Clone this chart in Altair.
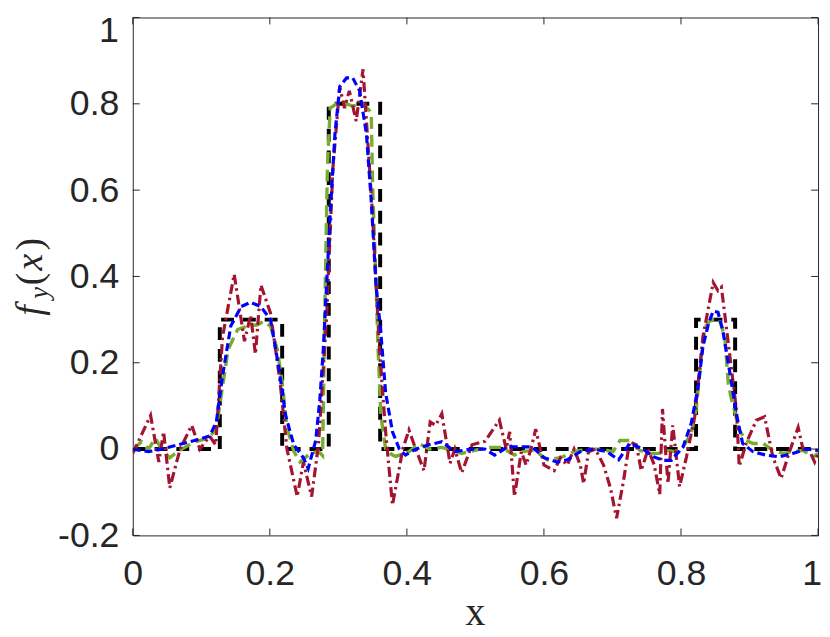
import altair as alt
import pandas as pd

# ---------------- data ----------------
x_ticks = [0, 0.2, 0.4, 0.6, 0.8, 1.0]
y_ticks = [-0.2, 0, 0.2, 0.4, 0.6, 0.8, 1.0]
end_label = "1"

true_x = [0, 0.127, 0.127, 0.218, 0.218, 0.286, 0.286, 0.361, 0.361, 0.822, 0.822, 0.879, 0.879, 1.0]
true_y = [0, 0, 0.3, 0.3, 0, 0, 0.8, 0.8, 0, 0, 0.3, 0.3, 0, 0]

green_x = [0.000, 0.013, 0.023, 0.033, 0.042, 0.054, 0.066, 0.090, 0.110, 0.122, 0.129, 0.139, 0.153, 0.167,
           0.182, 0.191, 0.201, 0.211, 0.218, 0.225, 0.235, 0.244, 0.259, 0.271, 0.277, 0.280, 0.284, 0.288,
           0.297, 0.312, 0.321, 0.336, 0.348, 0.350, 0.355, 0.358, 0.362, 0.369, 0.379, 0.384, 0.403, 0.418,
           0.432, 0.451, 0.466, 0.480, 0.499, 0.518, 0.538, 0.557, 0.567, 0.586, 0.605, 0.624, 0.644, 0.663,
           0.682, 0.701, 0.711, 0.725, 0.740, 0.754, 0.769, 0.779, 0.791, 0.803, 0.815, 0.822, 0.830, 0.835,
           0.844, 0.856, 0.864, 0.869, 0.873, 0.878, 0.885, 0.895, 0.905, 0.920, 0.934, 0.949, 0.963, 0.978,
           0.993, 1.000]
green_y = [0.0, 0.017, 0.0, 0.025, 0.0, -0.02, -0.005, 0.017, 0.025, 0.047, 0.124, 0.23, 0.277, 0.285,
           0.288, 0.296, 0.285, 0.23, 0.155, 0.05, -0.005, -0.03, -0.01, -0.005, -0.015, 0.3, 0.65, 0.79,
           0.80, 0.80, 0.795, 0.80, 0.78, 0.61, 0.38, 0.23, 0.078, 0.0, -0.014, -0.017, -0.006, 0.013,
           0.0, 0.004, -0.003, -0.01, -0.003, 0.004, 0.004, -0.014, -0.006, -0.003, -0.025, -0.02, -0.006, 0.0,
           0.0, -0.006, 0.02, 0.02, -0.003, -0.01, -0.01, -0.003, -0.006, 0.005, 0.036, 0.09, 0.22, 0.283,
           0.30, 0.30, 0.26, 0.152, 0.12, 0.09, 0.044, 0.02, 0.013, 0.013, -0.003, -0.01, -0.006, -0.003,
           -0.018, -0.01]

red_x = [0.000, 0.026, 0.038, 0.045, 0.054, 0.069, 0.086, 0.098, 0.112, 0.121, 0.131, 0.148, 0.163, 0.172,
         0.179, 0.187, 0.201, 0.215, 0.225, 0.240, 0.249, 0.261, 0.271, 0.283, 0.292, 0.302, 0.309, 0.316,
         0.326, 0.336, 0.341, 0.350, 0.360, 0.369, 0.379, 0.394, 0.403, 0.413, 0.425, 0.434, 0.442, 0.451,
         0.463, 0.470, 0.480, 0.495, 0.514, 0.535, 0.545, 0.550, 0.557, 0.567, 0.574, 0.581, 0.588, 0.600,
         0.615, 0.624, 0.634, 0.644, 0.653, 0.658, 0.665, 0.675, 0.687, 0.697, 0.706, 0.716, 0.725, 0.735,
         0.742, 0.752, 0.761, 0.769, 0.773, 0.781, 0.788, 0.798, 0.808, 0.820, 0.832, 0.847, 0.854, 0.859,
         0.871, 0.881, 0.885, 0.895, 0.910, 0.922, 0.934, 0.946, 0.959, 0.971, 0.978, 0.985, 0.995, 1.000]
red_y = [-0.01, 0.078, -0.03, 0.04, -0.09, 0.0, 0.055, 0.0, 0.03, 0.01, 0.26, 0.405, 0.25, 0.31,
         0.22, 0.38, 0.315, 0.155, 0.0, -0.11, -0.03, -0.11, 0.01, 0.31, 0.65, 0.84, 0.79, 0.83,
         0.76, 0.88, 0.76, 0.54, 0.23, 0.04, -0.13, 0.0, 0.044, 0.0, -0.05, 0.063, 0.055, 0.082,
         -0.033, 0.0, -0.055, 0.01, 0.018, 0.067, 0.0, 0.04, -0.11, -0.006, -0.037, 0.0, 0.046, -0.037,
         -0.05, -0.02, -0.037, 0.0, -0.037, -0.08, -0.006, 0.0, -0.037, -0.09, -0.16, -0.075, 0.017, 0.01,
         -0.05, 0.0, -0.037, -0.105, 0.093, -0.08, 0.055, -0.087, -0.018, 0.075, 0.26, 0.386, 0.367, 0.375,
         0.22, 0.09, -0.04, 0.013, 0.067, 0.075, -0.018, -0.068, -0.003, 0.05, 0.0, 0.005, -0.03, -0.01]

blue_x = [0.000, 0.023, 0.042, 0.066, 0.090, 0.112, 0.122, 0.131, 0.143, 0.158, 0.172, 0.187, 0.201, 0.213,
          0.223, 0.235, 0.249, 0.256, 0.267, 0.273, 0.278, 0.288, 0.295, 0.302, 0.312, 0.321, 0.331, 0.341,
          0.348, 0.355, 0.362, 0.369, 0.379, 0.389, 0.398, 0.413, 0.432, 0.451, 0.470, 0.495, 0.514, 0.528,
          0.547, 0.567, 0.583, 0.600, 0.619, 0.634, 0.653, 0.672, 0.692, 0.709, 0.725, 0.745, 0.760, 0.774,
          0.786, 0.803, 0.815, 0.825, 0.832, 0.840, 0.847, 0.854, 0.861, 0.871, 0.881, 0.890, 0.905, 0.924,
          0.944, 0.963, 0.983, 1.000]
blue_y = [0.0, -0.006, 0.0, 0.01, 0.02, 0.03, 0.063, 0.17, 0.285, 0.33, 0.34, 0.33, 0.30, 0.19,
          0.078, 0.01, -0.02, -0.045, 0.02, 0.115, 0.23, 0.54, 0.73, 0.84, 0.86, 0.86, 0.83, 0.73,
          0.575, 0.38, 0.27, 0.13, 0.04, 0.0, -0.014, 0.0, 0.01, 0.017, -0.006, 0.0, 0.0, -0.014,
          0.005, 0.005, 0.005, -0.02, -0.03, -0.025, -0.006, 0.0, -0.006, -0.025, 0.013, 0.0, -0.018, -0.026,
          -0.026, 0.005, 0.06, 0.144, 0.237, 0.29, 0.32, 0.317, 0.275, 0.18, 0.08, 0.013, -0.006, -0.014,
          -0.018, -0.01, 0.0, -0.003]

# ---------------- layout ----------------
W, H = 692, 523
AXIS_COLOR = "#262626"
TICK_LEN = 7
LABEL_FONT = "Liberation Sans"
LABEL_SIZE = 36
XPAD = 22


def frame(xs, ys):
    return pd.DataFrame({"x": xs, "y": ys, "i": list(range(len(xs)))})


xscale = alt.Scale(domain=[0, 1], nice=False, zero=False)
yscale = alt.Scale(domain=[-0.2, 1], nice=False, zero=False)
lab = "replace(datum.label, '\u2212', '-')"
# the two "1" end labels are drawn as separate texts so that they stay inside the page
xaxis = alt.Axis(values=x_ticks[:-1], format="~g", labelExpr=lab, title=None, labelPadding=XPAD,
                 labelFlush=False, labelOverlap=False)
yaxis = alt.Axis(values=y_ticks[:-1], format="~g", labelExpr=lab, title=None, labelPadding=14,
                 labelFlush=False, labelOverlap=False)

X = alt.X("x:Q", scale=xscale, axis=xaxis)
Y = alt.Y("y:Q", scale=yscale, axis=yaxis)


def series(xs, ys, color, width, dash):
    return alt.Chart(frame(xs, ys)).mark_line(
        color=color, strokeWidth=width, strokeDash=dash, clip=True
    ).encode(x=X, y=Y, order="i:Q")


black = series(true_x, true_y, "#000000", 4, [13, 9])
green = series(green_x, green_y, "#77AC30", 3.4, [12, 6])
red = series(red_x, red_y, "#A2142F", 3.2, [10, 4, 2.5, 4])
blue = series(blue_x, blue_y, "#0000FF", 3.2, [8, 4])

# inward tick marks on all four sides (MATLAB style box)
xt = pd.DataFrame({"x": x_ticks})
yt = pd.DataFrame({"y": y_ticks})
tick_style = dict(color=AXIS_COLOR, strokeWidth=1)
ticks_bottom = alt.Chart(xt).mark_rule(**tick_style).encode(
    x=X, y=alt.value(H), y2=alt.value(H - TICK_LEN))
ticks_top = alt.Chart(xt).mark_rule(**tick_style).encode(
    x=X, y=alt.value(0), y2=alt.value(TICK_LEN))
ticks_left = alt.Chart(yt).mark_rule(**tick_style).encode(
    y=Y, x=alt.value(0), x2=alt.value(TICK_LEN))
ticks_right = alt.Chart(yt).mark_rule(**tick_style).encode(
    y=Y, x=alt.value(W), x2=alt.value(W - TICK_LEN))

one = pd.DataFrame({"t": [""]})


def label(text, x, y, size, style="normal", angle=0, font="Liberation Serif",
          align="center", baseline="alphabetic"):
    return alt.Chart(one).mark_text(
        text=text, font=font, fontSize=size, fontStyle=style, color=AXIS_COLOR,
        angle=angle, align=align, baseline=baseline
    ).encode(x=alt.value(x), y=alt.value(y))


y_end = label(end_label, -14, 14, LABEL_SIZE, font=LABEL_FONT, align="right", baseline="middle")
x_end = label(end_label, W - 6, H + XPAD, LABEL_SIZE, font=LABEL_FONT, align="center", baseline="top")

# axis titles: x (upright) and f_y(x) (math style, rotated)
xtitle = label("x", W / 2, 613, 40)
ytitle = [
    label("f", -92, 296, 38, "italic", 270),
    label("y", -86, 278, 27, "italic", 270),
    label("(", -92, 264, 38, "normal", 270),
    label("x", -92, 247, 38, "italic", 270),
    label(")", -92, 229, 38, "normal", 270),
]

chart = alt.layer(
    black, green, red, blue,
    ticks_bottom, ticks_top, ticks_left, ticks_right,
    y_end, x_end, xtitle, *ytitle,
).properties(
    width=W, height=H,
    autosize=alt.AutoSizeParams(type="none"),
    padding={"left": 126, "top": 6.5, "right": 4, "bottom": 99.5},
).configure_view(
    stroke=AXIS_COLOR, strokeWidth=1
).configure_axis(
    domain=False, ticks=False, grid=False,
    labelFont=LABEL_FONT, labelFontSize=LABEL_SIZE, labelColor=AXIS_COLOR,
)

chart.save("out.html", embed_options={"renderer": "svg", "actions": False})
